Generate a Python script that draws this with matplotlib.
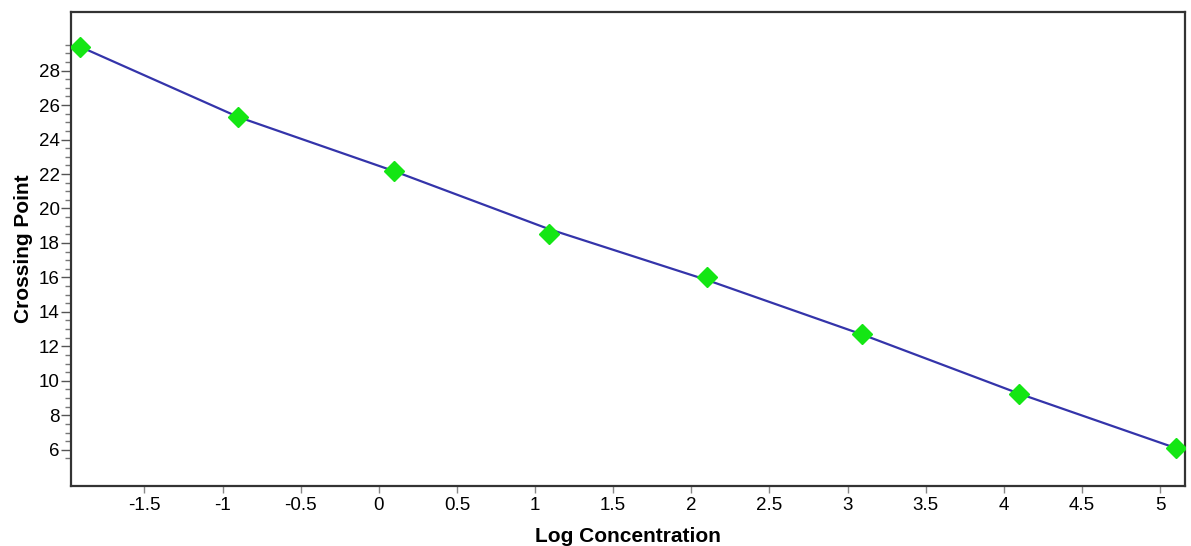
import numpy as np
import matplotlib.pyplot as plt
from matplotlib.ticker import FixedLocator

# standard curve points
log_conc = [-1.91, -0.90, 0.10, 1.09, 2.10, 3.09, 4.10, 5.10]
crossing_point = [29.38, 25.31, 22.16, 18.5, 16.03, 12.7, 9.25, 6.1]
# the drawn fit curve, read at the same x positions
fit_curve = [29.38, 25.31, 22.16, 18.8, 15.85, 12.7, 9.25, 6.1]
x_ticks = [-1.5, -1, -0.5, 0, 0.5, 1, 1.5, 2, 2.5, 3, 3.5, 4, 4.5, 5]
x_labels = ["-1.5", "-1", "-0.5", "0", "0.5", "1", "1.5", "2", "2.5", "3", "3.5", "4", "4.5", "5"]
y_ticks = [6, 8, 10, 12, 14, 16, 18, 20, 22, 24, 26, 28]

plt.rcParams['font.family'] = ['Liberation Sans', 'DejaVu Sans']

fig = plt.figure(figsize=(11.91, 5.46), dpi=100)
ax = fig.add_axes([0.0596, 0.11, 0.9354, 0.868])

ax.plot(log_conc, fit_curve, color='#3434aa', lw=1.6, zorder=2)
ax.plot(log_conc, crossing_point, linestyle='none', marker='D', ms=10,
        color='#14e614', mec='#14e614', zorder=3)

ax.set_xlim(-1.97, 5.16)
ax.set_ylim(3.9, 31.4)
ax.xaxis.set_major_locator(FixedLocator(x_ticks))
ax.set_xticklabels(x_labels)
ax.yaxis.set_major_locator(FixedLocator(y_ticks))
ax.yaxis.set_minor_locator(FixedLocator(np.arange(5.5, 29.6, 0.5)))

ax.tick_params(axis='x', which='major', length=5, width=1, color='#888888',
               labelsize=13.5, pad=3)
ax.tick_params(axis='y', which='major', length=7, width=1, color='#555555',
               labelsize=13.5, pad=1)
ax.tick_params(axis='y', which='minor', length=4, width=1, color='#777777')

for s in ax.spines.values():
    s.set_linewidth(1.6)
    s.set_color('#333333')

ax.set_xlabel("Log Concentration", fontsize=15, fontweight='bold', labelpad=9)
ax.set_ylabel("Crossing Point", fontsize=15, fontweight='bold', labelpad=4)

fig.savefig('out.png', dpi=100)
